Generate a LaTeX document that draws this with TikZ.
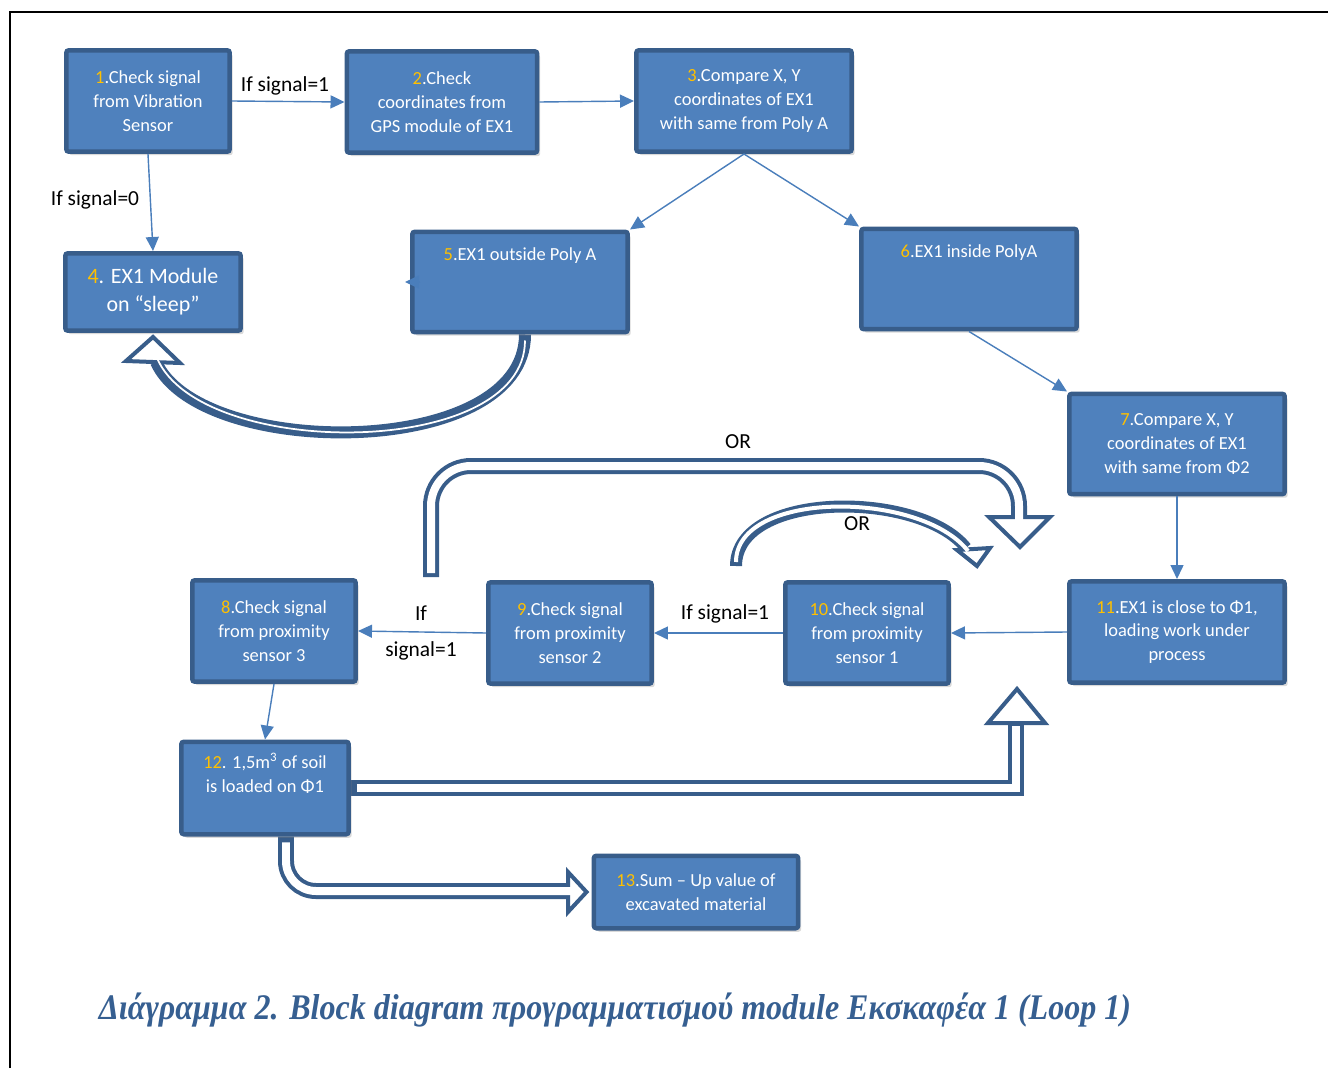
\documentclass[tikz,border=0pt]{standalone}
\usepackage{fontspec}
\setmainfont{Carlito}
\newfontfamily\capfont{Liberation Serif}
\usetikzlibrary{arrows.meta,shadows,backgrounds}
\definecolor{boxfill}{HTML}{4F81BD}
\definecolor{boxedge}{HTML}{385D8A}
\definecolor{linkblue}{HTML}{4A7EBB}
\definecolor{numgold}{HTML}{FFC000}
\definecolor{capblue}{HTML}{365F91}
\newcommand{\nr}[1]{\textcolor{numgold}{#1}}

\tikzset{
  blk/.style={draw=boxedge, fill=boxfill, line width=0.09cm, rounded corners=1.5pt,
    text=white, align=center, inner sep=0pt, font=\fontsize{10.5}{13.6}\selectfont,
    drop shadow={shadow xshift=0.06cm, shadow yshift=-0.07cm, opacity=0.3}},
  link/.style={draw=linkblue, line width=0.8pt, -{Triangle[length=0.28cm,width=0.26cm]}},
  lbl/.style={font=\fontsize{12.2}{14.6}\selectfont, inner sep=1pt},
  holout/.style={draw=boxedge, line width=0.32cm},
  holin/.style={draw=white, line width=0.16cm},
  holhead/.style={draw=boxedge, fill=white, line width=0.08cm, line join=miter},
}

\begin{document}
\begin{tikzpicture}[x=0.02cm, y=-0.02cm]
  \useasboundingbox (0,0) rectangle (1328,1068);

  % Frame
  \draw[line width=0.05cm] (10,1068) -- (10,12) -- (1328,12);

  % Blocks
  \node[blk, minimum width=3.27cm, minimum height=2.03cm] (b1) at (148,101)
    {\nr{1}.Check signal\\from Vibration\\Sensor};
  \node[blk, minimum width=3.81cm, minimum height=2.03cm] (b2) at (442,102)
    {\nr{2}.Check\\coordinates from\\GPS module of EX1};
  \node[blk, minimum width=4.31cm, minimum height=2.03cm] (b3) at (744,101)
    {\nr{3}.Compare X, Y\\coordinates of EX1\\with same from Poly A};
  \node[blk, minimum width=3.51cm, minimum height=1.55cm, font=\fontsize{12.5}{16}\selectfont] (b4) at (153,292)
    {\nr{4}. EX1 Module\\on “sleep”};
  \node[blk, minimum width=4.31cm, minimum height=2.01cm] (b5) at (520,282)
    {\nr{5}.EX1 outside Poly A\\\strut\\\strut};
  \node[blk, minimum width=4.31cm, minimum height=2.01cm] (b6) at (969,279)
    {\nr{6}.EX1 inside PolyA\\\strut\\\strut};
  \node[blk, minimum width=4.31cm, minimum height=2.01cm] (b7) at (1177,444)
    {\nr{7}.Compare X, Y\\coordinates of EX1\\with same from Φ2};
  \node[blk, minimum width=3.27cm, minimum height=2.03cm] (b8) at (274,631)
    {\nr{8}.Check signal\\from proximity\\sensor 3};
  \node[blk, minimum width=3.27cm, minimum height=2.03cm] (b9) at (570,633)
    {\nr{9}.Check signal\\from proximity\\sensor 2};
  \node[blk, minimum width=3.27cm, minimum height=2.03cm] (b10) at (867,633)
    {\nr{10}.Check signal\\from proximity\\sensor 1};
  \node[blk, minimum width=4.31cm, minimum height=2.03cm] (b11) at (1177,632)
    {\nr{11}.EX1 is close to Φ1,\\loading work under\\process};
  \node[blk, minimum width=3.35cm, minimum height=1.85cm] (b12) at (265,788)
    {\nr{12}. 1,5m\textsuperscript{3} of soil\\is loaded on Φ1\\\strut};
  \node[blk, minimum width=4.09cm, minimum height=1.45cm] (b13) at (696,892)
    {\nr{13}.Sum – Up value of\\excavated material};

  % Connectors
  \draw[link] (b1.east) -- (b2.west);
  \draw[link] (b1.south) -- (b4.north);
  \draw[link] (b2.east) -- (b3.west);
  \draw[link] (b3.south) -- (b5.north east);
  \draw[link] (b3.south) -- (b6.north west);
  \draw[link] ([xshift=0.2cm]b5.west) -- ([xshift=-0.1cm]b5.west);
  \draw[link] (b6.south) -- (b7.north west);
  \draw[link] (b7.south) -- (b11.north);
  \draw[link] (b11.west) -- (b10.east);
  \draw[link] (b10.west) -- (b9.east);
  \draw[link] (b9.west) -- (b8.east);
  \draw[link] (b8.south) -- (b12.north);

  % Labels
  \node[lbl] (s1) at (285,86) {If signal=1};
  \node[lbl] (s0) at (95,200) {If signal=0};
  \node[lbl] (s10) at (725,614) {If signal=1};
  \node[lbl, align=center, font=\fontsize{12.2}{20.4}\selectfont] (s9) at (421,633) {If\\signal=1};
  \node[lbl] (or1) at (738,442) {OR};
  \node[lbl] (or2) at (857,524) {OR};

  % Hollow arrows
  \coordinate (ortail) at (431,577);
  \coordinate (ortip) at (1020,547);
  \coordinate (arctail) at (736,566);
  \coordinate (arctip) at (977,566);
  \begin{scope}[on background layer]
    % 5 -> 4
    \draw[holout, line width=0.24cm] ([xshift=0.1cm]b5.south) .. controls (525,460) and (200,460) .. (156,362);
    \draw[holhead] ([yshift=-0.08cm]b4.south) -- (126,361) -- (180,363) -- cycle;
    \draw[holin, line width=0.035cm] ([xshift=0.1cm,yshift=-0.12cm]b5.south) .. controls (525,460) and (200,460) .. (157,358);
    % big OR
    \draw[holout, rounded corners=0.8cm] (ortail) |- (1019,466) -- (1019,518);
    \draw[holhead] (ortip) -- (989,517) -- (1050,517) -- cycle;
    \draw[holin, rounded corners=0.8cm] (431,573) |- (1019,466) -- (1019,521);
    % small OR
    \draw[holout, line width=0.24cm] (arctail) .. controls (736,490) and (920,490) .. (966,548);
    \draw[holhead] (arctip) -- (957,550) -- (990,548) -- cycle;
    \draw[holin, line width=0.08cm] (736,562) .. controls (736,490) and (920,490) .. (968,551);
    % 12 -> 11
    \draw[holout] (b12.east) -| (1016,723);
    \draw[holhead] (1017,689) -- (988,723) -- (1045,723) -- cycle;
    \draw[holin] ([xshift=0.12cm]b12.east) -| (1016,726);
    % 12 -> 13
    \draw[holout, rounded corners=0.6cm] ([xshift=0.42cm]b12.south) |- (570,891);
    \draw[holhead] ([xshift=-0.1cm]b13.west) -- (568,872) -- (568,912) -- cycle;
    \draw[holin, rounded corners=0.6cm] ([xshift=0.42cm,yshift=-0.12cm]b12.south) |- (572,891);
  \end{scope}

  % Caption
  \node[font=\capfont\bfseries\itshape\fontsize{20.5}{24}\selectfont, text=capblue] (cap) at (615,1010)
    {\scalebox{0.89}[1]{Διάγραμμα 2. Block diagram προγραμματισμού module Εκσκαφέα 1 (Loop 1)}};
\end{tikzpicture}
\end{document}
